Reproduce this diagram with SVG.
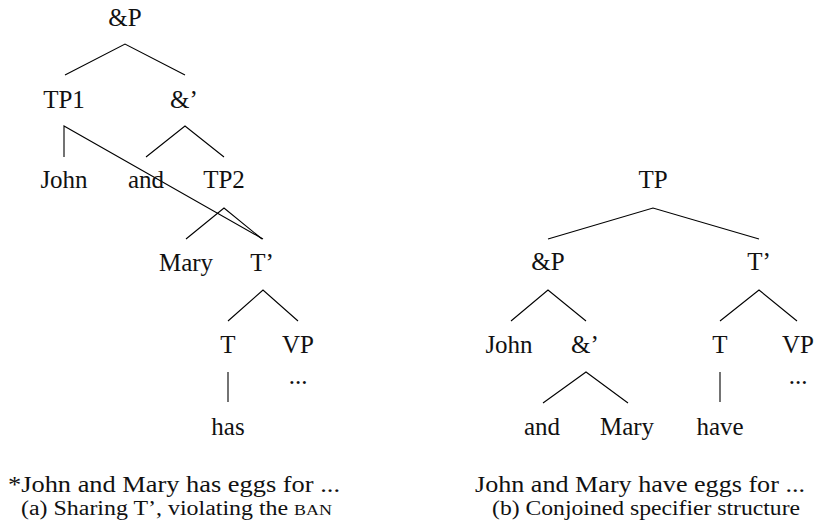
<svg xmlns="http://www.w3.org/2000/svg" width="819" height="521" viewBox="0 0 819 521">
<style>
.n{font-size:25px;text-anchor:middle;fill:#111;}
.c{font-size:24px;fill:#111;}
.s{font-size:20px;fill:#111;}
.e{stroke:#000;stroke-width:1.1;fill:none;}
</style>
<rect width="819" height="521" fill="#fff"/>
<g id="connectors">
<path class="e" d="M65,75 L125,44 L185,75"/>
<path class="e" d="M146,157 L185,126 L224,157"/>
<path class="e" d="M64,157 L64,126 L263,239"/>
<path class="e" d="M186,239 L224,208 L262,239"/>
<path class="e" d="M228,321 L263,290 L298,321"/>
<path class="e" d="M228,372 L228,402"/>
<path class="e" d="M548,239 L653,208 L759,239"/>
<path class="e" d="M511,321 L548,290 L586,321"/>
<path class="e" d="M720,321 L759,290 L797,321"/>
<path class="e" d="M543,403 L586,372 L628,403"/>
<path class="e" d="M720,372 L720,402"/>
</g>
<g font-family="'Liberation Serif', serif">
<g id="a-andP"><text class="n" x="125" y="26">&amp;P</text></g>
<g id="a-TP1"><text class="n" x="64" y="108">TP1</text></g>
<g id="a-andbar"><text class="n" x="184" y="108">&amp;’</text></g>
<g id="a-John"><text class="n" x="64" y="188">John</text></g>
<g id="a-and"><text class="n" x="146" y="188">and</text></g>
<g id="a-TP2"><text class="n" x="224" y="188">TP2</text></g>
<g id="a-Mary"><text class="n" x="186" y="271">Mary</text></g>
<g id="a-Tbar"><text class="n" x="262" y="271">T’</text></g>
<g id="a-T"><text class="n" x="228" y="353">T</text></g>
<g id="a-VP"><text class="n" x="298" y="353">VP</text></g>
<g id="a-dots"><text class="n" x="298" y="384">...</text></g>
<g id="a-has"><text class="n" x="228" y="435">has</text></g>
<g id="b-TP"><text class="n" x="653" y="188">TP</text></g>
<g id="b-andP"><text class="n" x="548" y="270">&amp;P</text></g>
<g id="b-Tbar"><text class="n" x="759" y="270">T’</text></g>
<g id="b-John"><text class="n" x="509" y="353">John</text></g>
<g id="b-andbar"><text class="n" x="585" y="353">&amp;’</text></g>
<g id="b-T"><text class="n" x="720" y="353">T</text></g>
<g id="b-VP"><text class="n" x="798" y="353">VP</text></g>
<g id="b-dots"><text class="n" x="798" y="384">...</text></g>
<g id="b-and"><text class="n" x="542" y="435">and</text></g>
<g id="b-Mary"><text class="n" x="627" y="435">Mary</text></g>
<g id="b-have"><text class="n" x="720" y="435">have</text></g>
<g id="captions">
<text class="c" x="8" y="492" textLength="332" lengthAdjust="spacingAndGlyphs">*John and Mary has eggs for ...</text>
<text class="s" x="21" y="515" textLength="311" lengthAdjust="spacingAndGlyphs">(a) Sharing T’, violating the <tspan font-size="15">BAN</tspan></text>
<text class="c" x="475" y="492" textLength="330" lengthAdjust="spacingAndGlyphs">John and Mary have eggs for ...</text>
<text class="s" x="492" y="515" textLength="308" lengthAdjust="spacingAndGlyphs">(b) Conjoined specifier structure</text>
</g>
</g>
</svg>
